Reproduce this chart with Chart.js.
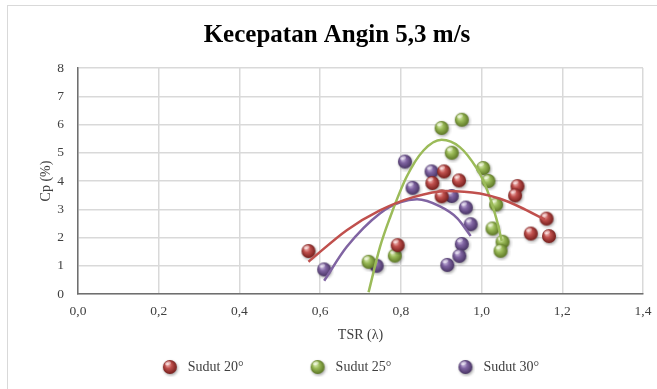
<!DOCTYPE html>
<html>
<head>
<meta charset="utf-8">
<script src="https://cdn.jsdelivr.net/npm/chart.js@4.4.1/dist/chart.umd.min.js"></script>
<style>
  html, body { margin: 0; padding: 0; background: #ffffff; overflow: hidden; }
  #frame { position: absolute; left: 7px; top: 5px; width: 720px; height: 420px; border: 1px solid #d9d9d9; box-sizing: border-box; }
  #c { position: absolute; left: 0; top: 0; }
</style>
</head>
<body>
<div id="frame"></div>
<canvas id="c" width="657" height="389"></canvas>
<script>
// ---- Data ----
const chartTitle = 'Kecepatan Angin 5,3 m/s';
const xAxisTitle = 'TSR (λ)';
const yAxisTitle = 'Cp (%)';
const seriesNames = ['Sudut 20°', 'Sudut 25°', 'Sudut 30°'];

const xTickLabels = ['0,0', '0,2', '0,4', '0,6', '0,8', '1,0', '1,2', '1,4'];
const yTickLabels = ['0', '1', '2', '3', '4', '5', '6', '7', '8'];

// Sudut 20°
const tsr20 = [0.571, 0.792, 0.878, 0.907, 0.944, 0.901, 1.089, 1.083, 1.122, 1.161, 1.167];
const cp20  = [1.52, 1.73, 3.93, 4.34, 4.02, 3.46, 3.82, 3.49, 2.14, 2.67, 2.05];
// Sudut 25°
const tsr25 = [0.720, 0.785, 0.901, 0.951, 0.926, 1.004, 1.017, 1.036, 1.027, 1.052, 1.047];
const cp25  = [1.14, 1.36, 5.88, 6.17, 5.00, 4.46, 4.00, 3.17, 2.32, 1.85, 1.53];
// Sudut 30°
const tsr30 = [0.610, 0.740, 0.810, 0.829, 0.876, 0.926, 0.961, 0.973, 0.951, 0.945, 0.915];
const cp30  = [0.87, 1.00, 4.69, 3.76, 4.34, 3.47, 3.06, 2.47, 1.77, 1.35, 1.03];

// Trend curves
const trendX20 = [0.571, 0.666, 0.748, 0.831, 0.913, 0.996, 1.046, 1.095, 1.157];
const trendY20 = [1.14, 2.26, 2.96, 3.43, 3.65, 3.56, 3.37, 3.08, 2.63];
const trendX25 = [0.720, 0.748, 0.773, 0.814, 0.856, 0.901, 0.946, 0.988, 1.004, 1.021, 1.037, 1.050];
const trendY25 = [0.06, 1.65, 2.70, 4.14, 5.08, 5.46, 5.20, 4.45, 4.02, 3.40, 2.65, 1.88];
const trendX30 = [0.610, 0.666, 0.748, 0.800, 0.840, 0.897, 0.940, 0.973];
const trendY30 = [0.47, 1.67, 2.85, 3.25, 3.35, 3.10, 2.68, 2.05];

// ---- Styling ----
const colors = ['#C0504D', '#9BBB59', '#8064A2'];
const lights = ['#F4C2C0', '#E2F0BF', '#D3C6E6'];
const darks  = ['#6E1A18', '#56701F', '#43305E'];
const serif = '"Liberation Serif", "Times New Roman", serif';

function makeBall(base, light, dark) {
  const c = document.createElement('canvas');
  c.width = 20; c.height = 20;
  const g = c.getContext('2d');
  const grad = g.createRadialGradient(7.5, 7, 0.5, 10, 10, 7.5);
  grad.addColorStop(0, light);
  grad.addColorStop(0.4, base);
  grad.addColorStop(1, dark);
  g.shadowColor = 'rgba(0,0,0,0.35)';
  g.shadowBlur = 3;
  g.shadowOffsetX = 1;
  g.shadowOffsetY = 1.5;
  g.beginPath(); g.arc(10, 10, 7, 0, Math.PI * 2);
  g.fillStyle = grad; g.fill();
  g.shadowColor = 'transparent';
  g.beginPath(); g.ellipse(8, 6.3, 3, 1.8, -0.3, 0, Math.PI * 2);
  g.fillStyle = 'rgba(255,255,255,0.45)'; g.fill();
  return c;
}
const balls = colors.map((c, i) => makeBall(c, lights[i], darks[i]));

function pts(xs, ys) { return xs.map((x, i) => ({ x: x, y: ys[i] })); }

const scatterSets = [[tsr20, cp20], [tsr25, cp25], [tsr30, cp30]].map((d, i) => ({
  label: seriesNames[i],
  data: pts(d[0], d[1]),
  pointStyle: balls[i],
  pointRadius: 7,
  backgroundColor: colors[i],
  borderColor: colors[i],
  showLine: false,
  order: 2
}));
const trendSets = [[trendX20, trendY20], [trendX25, trendY25], [trendX30, trendY30]].map((d, i) => ({
  label: 'trend ' + seriesNames[i],
  data: pts(d[0], d[1]),
  showLine: true,
  pointRadius: 0,
  pointHoverRadius: 0,
  borderColor: colors[i],
  backgroundColor: colors[i],
  borderWidth: 2.5,
  cubicInterpolationMode: 'monotone',
  fill: false,
  order: 1
}));

const layoutFix = {
  id: 'layoutFix',
  afterLayout(chart) {
    const lg = chart.legend;
    if (lg) { lg.left = 41; lg.right = 657; lg.top = 297; lg.bottom = 389; }
  }
};

new Chart(document.getElementById('c'), {
  type: 'scatter',
  data: { datasets: scatterSets.concat(trendSets) },
  plugins: [layoutFix],
  options: {
    responsive: false,
    animation: false,
    devicePixelRatio: 1,
    layout: { padding: { left: 17, right: 0, top: 0, bottom: 0 } },
    plugins: {
      title: {
        display: true,
        text: chartTitle,
        color: '#000000',
        font: { family: serif, size: 25, weight: 'bold' },
        padding: { top: 21, bottom: 17 }
      },
      legend: {
        position: 'bottom',
        maxHeight: 40,
        labels: {
          usePointStyle: true,
          pointStyleWidth: 22,
          padding: 63,
          color: '#404040',
          font: { family: serif, size: 14 },
          filter: (item) => item.datasetIndex < 3
        }
      },
      tooltip: { enabled: false }
    },
    scales: {
      x: {
        type: 'linear',
        min: 0, max: 1.4,
        afterFit(scale) { scale.height = 55; scale.paddingRight = 14; },
        ticks: {
          stepSize: 0.2,
          padding: 9,
          color: '#404040',
          font: { family: serif, size: 13.5 },
          callback: (v, i) => xTickLabels[i]
        },
        grid: { color: '#d9d9d9', lineWidth: 1.5, drawTicks: false },
        border: { color: '#6f6f6f', width: 1.5 },
        title: {
          display: true, text: xAxisTitle, color: '#404040',
          font: { family: serif, size: 14 },
          padding: { top: 0, bottom: 5.6 }
        }
      },
      y: {
        type: 'linear',
        min: 0, max: 8,
        afterFit(scale) { scale.width = 61; },
        ticks: {
          stepSize: 1,
          padding: 14,
          color: '#404040',
          font: { family: serif, size: 13.5 },
          callback: (v, i) => yTickLabels[i]
        },
        grid: { color: '#d9d9d9', lineWidth: 1.5, drawTicks: false },
        border: { color: '#6f6f6f', width: 1.5 },
        title: {
          display: true, text: yAxisTitle, color: '#404040',
          font: { family: serif, size: 14 },
          padding: { top: 20.6, bottom: 0 }
        }
      }
    }
  }
});
</script>
</body>
</html>
